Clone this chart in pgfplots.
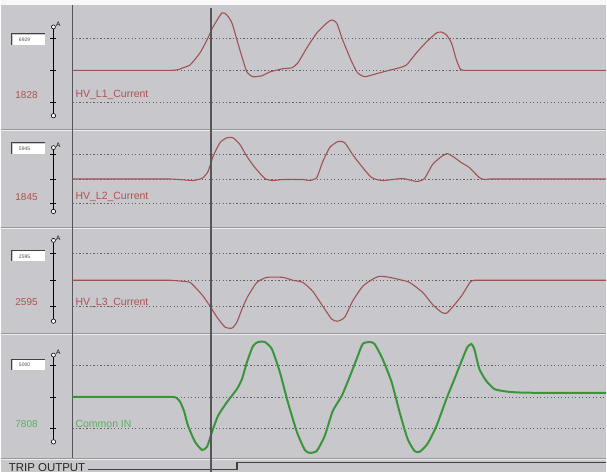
\documentclass[border=0pt]{standalone}
\usepackage{pgfplots}
\pgfplotsset{compat=1.18}
\usepackage{fontspec}
\setmainfont{Liberation Sans}
\definecolor{bg}{RGB}{200,200,204}
\definecolor{trace}{RGB}{160,82,82}
\definecolor{labred}{RGB}{178,78,78}
\definecolor{trgreen}{RGB}{58,148,58}
\definecolor{labgreen}{RGB}{92,175,92}
\definecolor{gridc}{RGB}{95,95,100}
\definecolor{sep}{RGB}{150,150,155}
\definecolor{cursor}{RGB}{85,85,90}

\pgfplotsset{panel/.style={scale only axis, width=535pt, xmin=72, xmax=607,
  axis line style={draw=none}, xtick=\empty, ytick={-1,0,1}, yticklabels={},
  major tick length=0pt, ymajorgrids,
  grid style={gridc, line width=0.8pt, dash pattern=on 1.2pt off 2.3pt},
  anchor=north west, clip=false}}

\newcommand{\scalebar}[8]{% top bottom g1 g2 g3 boxtop boxtext number
  \draw[black, line width=1.1pt] (53,#1) -- (53,#2);
  \draw[black, line width=0.8pt] (50,#3) -- (56,#3);
  \draw[black, line width=0.8pt] (50,#4) -- (56,#4);
  \draw[black, line width=0.8pt] (50,#5) -- (56,#5);
  \draw[black, fill=white, line width=0.6pt] (53,#2) circle[radius=2.2pt];
  \draw[black, fill=white, line width=0.6pt] (53,#1) circle[radius=2pt];
  \node[anchor=west, inner sep=0pt, font=\fontsize{6.5}{7}\selectfont] at (55.5,#1-2.5) {A};
  \fill[white] (12,#6+1) rectangle (45,#6+11);
  \draw[black!75, line width=1pt] (10,#6) -- (45,#6);
  \draw[black!75, line width=0.8pt] (11,#6) -- (11,#6+11);
  \node[inner sep=0pt, font=\fontsize{5}{6}\selectfont, text=black!70] at (24,#6+6) {#7};
}
\newcommand{\sepline}[1]{%
  \draw[sep, line width=1.2pt] (0,#1) -- (607,#1);
  \draw[white!65!bg, line width=1pt] (0,#1+1.4) -- (607,#1+1.4);
}

\begin{document}
\begin{tikzpicture}
% ---------- frame (pixel coordinates) ----------
\begin{axis}[scale only axis, width=607pt, height=473pt,
  xmin=0, xmax=607, ymin=0, ymax=473, y dir=reverse, hide axis,
  at={(0pt,0pt)}, anchor=north west, clip=false]
  \fill[bg] (0,0) rectangle (607,473);
  \fill[white!88!bg] (0,0) rectangle (607,5);
  \sepline{129.5}
  \sepline{228}
  \sepline{334}
  \sepline{459.5}
  \draw[cursor, line width=1.3pt] (72,5) -- (72,459);
  % scale bars
  \scalebar{27}{116}{38}{70.5}{102.5}{34}{6929}{1828}
  \scalebar{148}{212}{155}{179.5}{204}{143}{5945}{1845}
  \scalebar{241}{322}{254}{281}{307}{251}{2595}{2595}
  \scalebar{356}{443}{366}{398}{430}{360}{5000}{7808}
  % numbers
  \node[font=\fontsize{10}{11}\selectfont, text=labred] at (26,95) {1828};
  \node[font=\fontsize{10}{11}\selectfont, text=labred] at (26,198) {1845};
  \node[font=\fontsize{10}{11}\selectfont, text=labred] at (26,303) {2595};
  \node[font=\fontsize{10}{11}\selectfont, text=labgreen] at (26,425) {7808};
  % channel names
  \node[anchor=west, inner sep=0pt, font=\fontsize{10.5}{11}\selectfont, text=labred] at (75,95) {HV\_L1\_Current};
  \node[anchor=west, inner sep=0pt, font=\fontsize{10.5}{11}\selectfont, text=labred] at (75,197) {HV\_L2\_Current};
  \node[anchor=west, inner sep=0pt, font=\fontsize{10.5}{11}\selectfont, text=labred] at (75,304) {HV\_L3\_Current};
  \node[anchor=west, inner sep=0pt, font=\fontsize{10.5}{11}\selectfont, text=labgreen] at (75,425) {Common IN};
  % trip output
  \node[anchor=base west, inner sep=0pt, font=\fontsize{11.5}{12}\selectfont, text=black!85] at (8,472.5) {TRIP OUTPUT};
  \addplot[black!75, line width=1.2pt] coordinates {(88,471) (237,471) (237,464) (607,464)};
\end{axis}

% ---------- panel 1 ----------
\begin{axis}[panel, at={(72pt,-6pt)}, height=123pt, ymin=-1.828, ymax=2.016]
\addplot[trace, line width=1.1pt, smooth, tension=0.35] coordinates {
(72,0) (150,0) (165,0) (172,0) (178,0.02) (183,0.08) (190,0.17) (200,0.55) (208,1.02) (213,1.36) (222,1.80)
(227,1.73) (232,1.48) (237,0.95) (242,0.42) (247,-0.05) (253,-0.20) (262,-0.17)
(270,-0.05) (283,0.05) (292,0.08) (298,0.23) (307,0.70) (317,1.17) (327,1.48)
(332,1.58) (337,1.48) (343,0.95) (352,0.27) (358,-0.08) (365,-0.20) (373,-0.14)
(387,-0.02) (400,0.08) (407,0.17) (417,0.55) (427,0.89) (437,1.17) (442,1.20)
(447,1.11) (452,0.86) (457,0.33) (461,0.03) (464,0) (470,0) (480,0) (500,0) (607,0)};
\end{axis}

% ---------- panel 2 ----------
\begin{axis}[panel, at={(72pt,-131pt)}, height=96pt, ymin=-1.939, ymax=1.980]
\addplot[trace, line width=1.1pt, smooth, tension=0.35] coordinates {
(72,0) (150,0) (170,0) (182,-0.03) (193,-0.06) (200,0) (203,0.05) (208,0.31) (213,0.92) (220,1.49) (227,1.69)
(233,1.69) (240,1.41) (247,0.92) (255,0.47) (265,0.02) (273,-0.06) (283,-0.02)
(303,-0.02) (310,-0.06) (317,0.06) (323,0.71) (330,1.29) (338,1.53) (345,1.49)
(353,1.00) (363,0.47) (372,0.06) (383,-0.06) (403,0.02) (417,-0.10) (425,0.02)
(433,0.59) (442,0.92) (448,1.04) (455,0.88) (462,0.67) (470,0.47) (480,0.06)
(485,-0.02) (490,0) (500,0) (520,0) (607,0)};
\end{axis}

% ---------- panel 3 ----------
\begin{axis}[panel, at={(72pt,-229pt)}, height=104pt, ymin=-1.962, ymax=1.962]
\addplot[trace, line width=1.1pt, smooth, tension=0.35] coordinates {
(72,0) (150,0) (170,0) (183,-0.04) (190,-0.08) (197,-0.34) (203,-0.60) (210,-0.98)
(217,-1.40) (225,-1.77) (232,-1.81) (237,-1.58) (242,-1.09) (248,-0.60)
(257,-0.08) (267,0.11) (283,0.11) (293,0) (303,-0.08) (313,-0.42) (323,-0.98)
(332,-1.47) (338,-1.55) (345,-1.40) (353,-0.79) (363,-0.23) (373,0.04)
(380,0.15) (390,0.11) (403,0) (410,-0.08) (423,-0.45) (433,-0.91) (442,-1.21)
(447,-1.25) (453,-1.02) (462,-0.60) (467,-0.30) (471,-0.06) (475,0) (480,0) (490,0) (510,0) (607,0)};
\end{axis}

% ---------- panel 4 ----------
\begin{axis}[panel, at={(72pt,-335pt)}, height=124pt, ymin=-1.906, ymax=1.969]
\addplot[trgreen, line width=2pt, smooth, tension=0.35] coordinates {
(72,0) (150,0) (165,0) (172,0) (176,-0.02) (180,-0.15) (184,-0.45) (188,-0.91) (195,-1.41) (202,-1.66) (207,-1.56)
(212,-1.09) (218,-0.59) (227,-0.16) (237,0.25) (242,0.56) (247,1.09) (253,1.59)
(258,1.72) (265,1.72) (272,1.50) (280,0.78) (288,-0.16) (297,-1.09) (305,-1.66)
(310,-1.75) (317,-1.69) (325,-1.22) (333,-0.44) (342,0.03) (350,0.63) (357,1.19)
(363,1.66) (370,1.72) (375,1.66) (383,1.19) (392,0.47) (400,-0.47) (408,-1.31)
(415,-1.69) (420,-1.72) (428,-1.47) (437,-0.91) (447,-0.06) (455,0.56)
(463,1.19) (468,1.56) (472,1.66) (475,1.50) (480,0.88) (487,0.50) (495,0.25)
(503,0.19) (510,0.16) (520,0.14) (540,0.13) (607,0.13)};
\end{axis}

% cursor
\draw[cursor, line width=1.3pt] (211pt,-8pt) -- (211pt,-473pt);
\end{tikzpicture}
\end{document}
